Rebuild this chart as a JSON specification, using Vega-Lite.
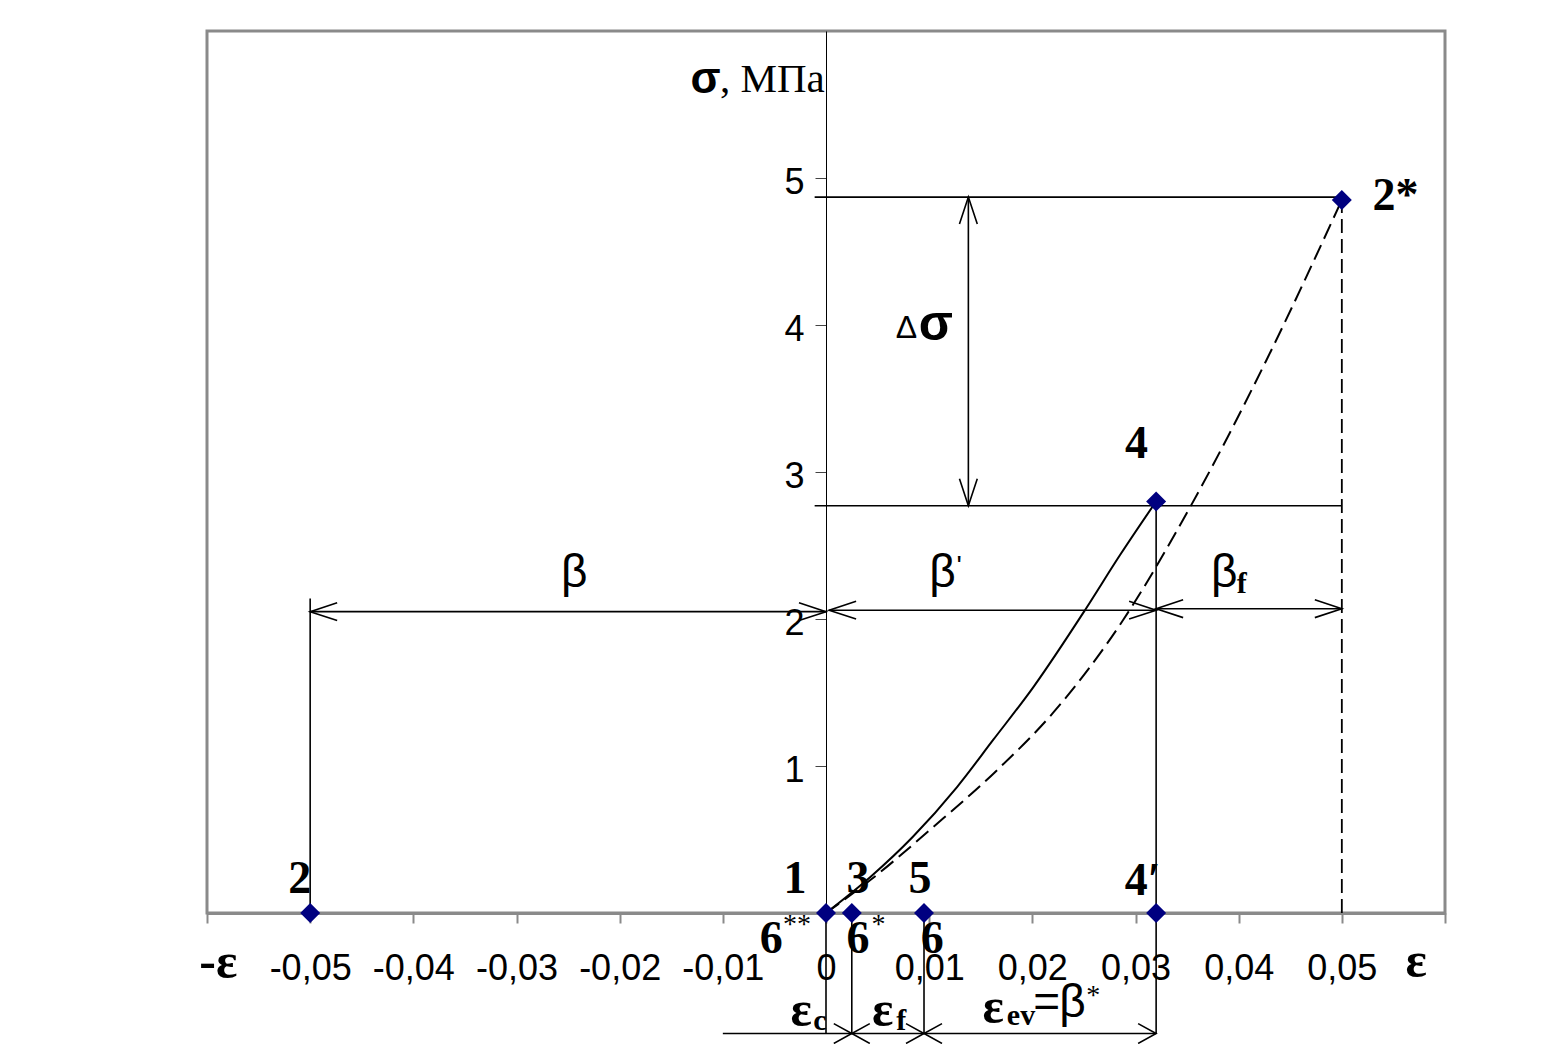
{
  "$schema": "https://vega.github.io/schema/vega-lite/v6.json",
  "width": 1238,
  "height": 882,
  "autosize": {"type": "none"},
  "padding": {"left": 207, "top": 31, "right": 118, "bottom": 131},
  "background": "white",
  "config": {"view": {"stroke": "#8a8a8a", "strokeWidth": 3}},
  "datasets": {
    "rules": [
      {"x": -0.0011, "x2": 0.05, "y": 4.87, "y2": 4.87},
      {"x": -0.0011, "x2": 0.05, "y": 2.77, "y2": 2.77},
      {"x": 0.0138, "x2": 0.0138, "y": 2.77, "y2": 4.87},
      {"x": -0.05, "x2": 0, "y": 2.05, "y2": 2.05},
      {"x": -0.05, "x2": -0.05, "y": 0, "y2": 2.14},
      {"x": 0.0003, "x2": 0.032, "y": 2.06, "y2": 2.06},
      {"x": 0.032, "x2": 0.05, "y": 2.07, "y2": 2.07},
      {"x": 0.032, "x2": 0.032, "y": -0.82, "y2": 2.8},
      {"x": -0.01, "x2": 0.032, "y": -0.82, "y2": -0.82},
      {"x": 0, "x2": 0, "y": -0.82, "y2": 0},
      {"x": 0.0025, "x2": 0.0025, "y": -0.82, "y2": 0},
      {"x": 0.0095, "x2": 0.0095, "y": -0.82, "y2": 0}
    ],
    "dashedRules": [
      {"x": 0.05, "x2": 0.05, "y": 0, "y2": 4.85}
    ],
    "curves": [
      {"c": "solid", "x": 0, "y": 0},
      {"c": "solid", "x": 0.0043, "y": 0.245},
      {"c": "solid", "x": 0.0084, "y": 0.517},
      {"c": "solid", "x": 0.0127, "y": 0.857},
      {"c": "solid", "x": 0.0162, "y": 1.177},
      {"c": "solid", "x": 0.0201, "y": 1.537},
      {"c": "solid", "x": 0.0251, "y": 2.06},
      {"c": "solid", "x": 0.0285, "y": 2.435},
      {"c": "solid", "x": 0.032, "y": 2.8},
      {"c": "dashed", "x": 0, "y": 0},
      {"c": "dashed", "x": 0.0043, "y": 0.224},
      {"c": "dashed", "x": 0.0104, "y": 0.585},
      {"c": "dashed", "x": 0.0166, "y": 0.973},
      {"c": "dashed", "x": 0.022, "y": 1.361},
      {"c": "dashed", "x": 0.0288, "y": 1.993},
      {"c": "dashed", "x": 0.0353, "y": 2.762},
      {"c": "dashed", "x": 0.0427, "y": 3.762},
      {"c": "dashed", "x": 0.05, "y": 4.85}
    ],
    "bigArrows": [
      {"x": 0.0138, "y": 4.87, "dir": "up"},
      {"x": 0.0138, "y": 2.77, "dir": "down"},
      {"x": -0.05, "y": 2.05, "dir": "left"},
      {"x": 0, "y": 2.05, "dir": "right"},
      {"x": 0.0003, "y": 2.06, "dir": "left"},
      {"x": 0.032, "y": 2.06, "dir": "right"},
      {"x": 0.032, "y": 2.07, "dir": "left"},
      {"x": 0.05, "y": 2.07, "dir": "right"}
    ],
    "smallArrows": [
      {"x": 0.0025, "y": -0.82, "dir": "right"},
      {"x": 0.0025, "y": -0.82, "dir": "left"},
      {"x": 0.0095, "y": -0.82, "dir": "right"},
      {"x": 0.0095, "y": -0.82, "dir": "left"},
      {"x": 0.032, "y": -0.82, "dir": "right"}
    ],
    "points": [
      {"name": "2", "x": -0.05, "y": 0},
      {"name": "1", "x": 0, "y": 0},
      {"name": "3", "x": 0.0025, "y": 0},
      {"name": "5", "x": 0.0095, "y": 0},
      {"name": "4′", "x": 0.032, "y": 0},
      {"name": "4", "x": 0.032, "y": 2.8},
      {"name": "2*", "x": 0.05, "y": 4.85}
    ],
    "labels": [
      {"k": "num", "t": "2", "x": -0.051, "y": 0.136},
      {"k": "num", "t": "1", "x": -0.003, "y": 0.136},
      {"k": "num", "t": "3", "x": 0.0031, "y": 0.136},
      {"k": "num", "t": "5", "x": 0.0091, "y": 0.136},
      {"k": "num", "t": "4′", "x": 0.0307, "y": 0.125},
      {"k": "num", "t": "4", "x": 0.0301, "y": 3.095},
      {"k": "num", "t": "2*", "x": 0.0552, "y": 4.78},
      {"k": "num", "t": "6", "x": -0.0053, "y": -0.272},
      {"k": "num", "t": "6", "x": 0.0031, "y": -0.272},
      {"k": "num", "t": "6", "x": 0.0103, "y": -0.272},
      {"k": "sup", "t": "**", "x": -0.0028, "y": -0.136},
      {"k": "sup", "t": "*", "x": 0.0051, "y": -0.136},
      {"k": "sup", "t": "*", "x": 0.0259, "y": -0.62},
      {"k": "prime", "t": "'", "x": 0.0129, "y": 2.3},
      {"k": "greek", "t": "β", "x": -0.0244, "y": 2.22},
      {"k": "greek", "t": "β", "x": 0.0113, "y": 2.22},
      {"k": "greek", "t": "β", "x": 0.0386, "y": 2.22},
      {"k": "greek", "t": "β", "x": 0.0239, "y": -0.707},
      {"k": "greek", "t": "=", "x": 0.0214, "y": -0.707},
      {"k": "eps", "t": "-ε", "x": -0.0589, "y": -0.442},
      {"k": "eps", "t": "ε", "x": 0.0572, "y": -0.435},
      {"k": "eps", "t": "ε", "x": -0.0024, "y": -0.77},
      {"k": "eps", "t": "ε", "x": 0.0055, "y": -0.77},
      {"k": "eps", "t": "ε", "x": 0.0162, "y": -0.75},
      {"k": "sub", "t": "c", "x": -0.0006, "y": -0.796},
      {"k": "sub", "t": "f", "x": 0.0073, "y": -0.796},
      {"k": "sub", "t": "ev", "x": 0.0189, "y": -0.76},
      {"k": "sub", "t": "f", "x": 0.0403, "y": 2.177},
      {"k": "sigmaAxis", "t": "σ", "x": -0.01168, "y": 5.578},
      {"k": "unit", "t": ", МПа", "x": -0.01028, "y": 5.585},
      {"k": "sigmaDelta", "t": "σ", "x": 0.01066, "y": 3.898},
      {"k": "delta", "t": "Δ", "x": 0.0078, "y": 3.91}
    ]
  },
  "encoding": {
    "x": {
      "field": "x",
      "type": "quantitative",
      "scale": {"domain": [-0.06, 0.06], "nice": false, "zero": false},
      "axis": {
        "title": null,
        "grid": false,
        "values": [-0.06, -0.05, -0.04, -0.03, -0.02, -0.01, 0, 0.01, 0.02, 0.03, 0.04, 0.05, 0.06],
        "labelExpr": "abs(datum.value) > 0.055 ? '' : (abs(datum.value) < 0.001 ? '0' : replace(replace(format(datum.value, '.2f'), '.', ','), '\u2212', '-'))",
        "domainColor": "#8a8a8a",
        "domainWidth": 3,
        "tickColor": "#8a8a8a",
        "tickWidth": 2,
        "tickSize": 10,
        "labelFont": "Liberation Sans",
        "labelFontSize": 36,
        "labelColor": "black",
        "labelPadding": 28,
        "labelFlush": false,
        "labelOverlap": false
      }
    },
    "y": {
      "field": "y",
      "type": "quantitative",
      "scale": {"domain": [0, 6], "nice": false, "zero": false},
      "axis": {
        "title": null,
        "grid": false,
        "values": [1, 2, 3, 4, 5],
        "offset": -619,
        "domainColor": "black",
        "domainWidth": 1,
        "tickColor": "#444444",
        "tickWidth": 1,
        "tickSize": 11,
        "labelFont": "Liberation Sans",
        "labelFontSize": 36,
        "labelColor": "black",
        "labelPadding": 11,
        "labelOffset": 4
      }
    }
  },
  "resolve": {"scale": {"shape": "independent"}},
  "layer": [
    {
      "data": {"name": "rules"},
      "mark": {"type": "rule", "color": "black", "strokeWidth": 1.6},
      "encoding": {"x2": {"field": "x2"}, "y2": {"field": "y2"}}
    },
    {
      "data": {"name": "dashedRules"},
      "mark": {"type": "rule", "color": "black", "strokeWidth": 1.8, "strokeDash": [14, 6]},
      "encoding": {"x2": {"field": "x2"}, "y2": {"field": "y2"}}
    },
    {
      "data": {"name": "curves"},
      "transform": [{"filter": "datum.c == 'solid'"}],
      "mark": {"type": "line", "color": "black", "strokeWidth": 2, "interpolate": "monotone"}
    },
    {
      "data": {"name": "curves"},
      "transform": [{"filter": "datum.c == 'dashed'"}],
      "mark": {"type": "line", "color": "black", "strokeWidth": 2, "strokeDash": [16, 7], "interpolate": "monotone"}
    },
    {
      "data": {"name": "bigArrows"},
      "mark": {"type": "point", "filled": false, "stroke": "black", "strokeWidth": 1.6, "opacity": 1, "size": 2916},
      "encoding": {
        "shape": {
          "field": "dir",
          "type": "nominal",
          "legend": null,
          "scale": {
            "domain": ["up", "down", "left", "right"],
            "range": ["M-0.33,1L0,0L0.33,1", "M-0.33,-1L0,0L0.33,-1", "M1,-0.33L0,0L1,0.33", "M-1,-0.33L0,0L-1,0.33"]
          }
        }
      }
    },
    {
      "data": {"name": "smallArrows"},
      "mark": {"type": "point", "filled": false, "stroke": "black", "strokeWidth": 1.6, "opacity": 1, "size": 1296},
      "encoding": {
        "shape": {
          "field": "dir",
          "type": "nominal",
          "legend": null,
          "scale": {
            "domain": ["left", "right"],
            "range": ["M1,-0.55L0,0L1,0.55", "M-1,-0.55L0,0L-1,0.55"]
          }
        }
      }
    },
    {
      "data": {"name": "points"},
      "mark": {"type": "point", "shape": "diamond", "filled": true, "color": "#000080", "size": 400, "opacity": 1}
    },
    {
      "data": {"name": "labels"},
      "transform": [{"filter": "datum.k == 'num'"}],
      "mark": {"type": "text", "font": "Liberation Serif", "fontWeight": "bold", "fontSize": 46, "align": "center", "baseline": "alphabetic", "color": "black"},
      "encoding": {"text": {"field": "t"}}
    },
    {
      "data": {"name": "labels"},
      "transform": [{"filter": "datum.k == 'sup'"}],
      "mark": {"type": "text", "font": "Liberation Serif", "fontSize": 28, "align": "center", "baseline": "alphabetic", "color": "black"},
      "encoding": {"text": {"field": "t"}}
    },
    {
      "data": {"name": "labels"},
      "transform": [{"filter": "datum.k == 'prime'"}],
      "mark": {"type": "text", "font": "Liberation Sans", "fontSize": 28, "align": "center", "baseline": "alphabetic", "color": "black"},
      "encoding": {"text": {"field": "t"}}
    },
    {
      "data": {"name": "labels"},
      "transform": [{"filter": "datum.k == 'greek'"}],
      "mark": {"type": "text", "font": "Liberation Sans", "fontSize": 46, "align": "center", "baseline": "alphabetic", "color": "black"},
      "encoding": {"text": {"field": "t"}}
    },
    {
      "data": {"name": "labels"},
      "transform": [{"filter": "datum.k == 'eps'"}],
      "mark": {"type": "text", "font": "Liberation Serif", "fontWeight": "bold", "fontSize": 50, "align": "center", "baseline": "alphabetic", "color": "black"},
      "encoding": {"text": {"field": "t"}}
    },
    {
      "data": {"name": "labels"},
      "transform": [{"filter": "datum.k == 'sub'"}],
      "mark": {"type": "text", "font": "Liberation Serif", "fontWeight": "bold", "fontSize": 30, "align": "center", "baseline": "alphabetic", "color": "black"},
      "encoding": {"text": {"field": "t"}}
    },
    {
      "data": {"name": "labels"},
      "transform": [{"filter": "datum.k == 'sigmaAxis'"}],
      "mark": {"type": "text", "font": "Liberation Sans", "fontWeight": "bold", "fontSize": 44, "align": "center", "baseline": "alphabetic", "color": "black"},
      "encoding": {"text": {"field": "t"}}
    },
    {
      "data": {"name": "labels"},
      "transform": [{"filter": "datum.k == 'unit'"}],
      "mark": {"type": "text", "font": "Liberation Serif", "fontSize": 41, "align": "left", "baseline": "alphabetic", "color": "black"},
      "encoding": {"text": {"field": "t"}}
    },
    {
      "data": {"name": "labels"},
      "transform": [{"filter": "datum.k == 'sigmaDelta'"}],
      "mark": {"type": "text", "font": "Liberation Sans", "fontWeight": "bold", "fontSize": 50, "align": "center", "baseline": "alphabetic", "color": "black"},
      "encoding": {"text": {"field": "t"}}
    },
    {
      "data": {"name": "labels"},
      "transform": [{"filter": "datum.k == 'delta'"}],
      "mark": {"type": "text", "font": "Liberation Sans", "fontSize": 32, "align": "center", "baseline": "alphabetic", "color": "black"},
      "encoding": {"text": {"field": "t"}}
    }
  ]
}
